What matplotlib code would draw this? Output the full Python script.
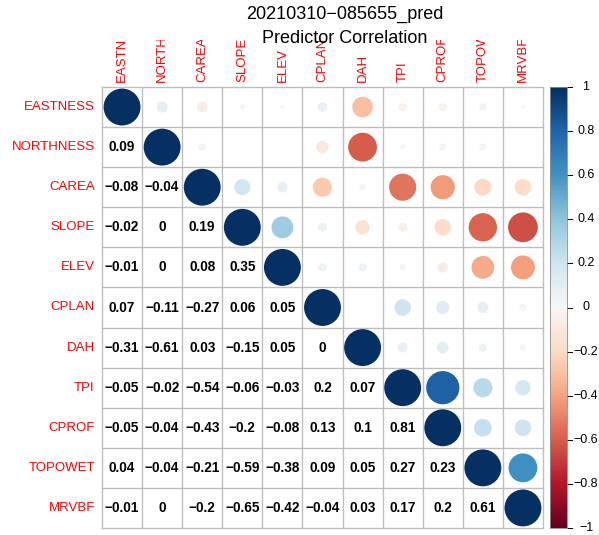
import numpy as np
import matplotlib

matplotlib.use("Agg")
import matplotlib.pyplot as plt  # noqa: E402
from matplotlib.patches import Circle  # noqa: E402
from matplotlib import transforms  # noqa: E402

plt.rcParams["font.family"] = ["Liberation Sans", "DejaVu Sans"]

variables = ["EASTNESS", "NORTHNESS", "CAREA", "SLOPE", "ELEV", "CPLAN",
             "DAH", "TPI", "CPROF", "TOPOWET", "MRVBF"]

# lower triangle of the correlation matrix, row by row
lower_rows = [
    [],
    [0.09],
    [-0.08, -0.04],
    [-0.02, 0, 0.19],
    [-0.01, 0, 0.08, 0.35],
    [0.07, -0.11, -0.27, 0.06, 0.05],
    [-0.31, -0.61, 0.03, -0.15, 0.05, 0],
    [-0.05, -0.02, -0.54, -0.06, -0.03, 0.2, 0.07],
    [-0.05, -0.04, -0.43, -0.2, -0.08, 0.13, 0.1, 0.81],
    [0.04, -0.04, -0.21, -0.59, -0.38, 0.09, 0.05, 0.27, 0.23],
    [-0.01, 0, -0.2, -0.65, -0.42, -0.04, 0.03, 0.17, 0.2, 0.61],
]

title_lines = ["20210310\u2212085655_pred", "Predictor Correlation"]
cbar_ticks = [1, 0.8, 0.6, 0.4, 0.2, 0, -0.2, -0.4, -0.6, -0.8, -1]

n = len(variables)
corr = np.eye(n)
for i, row in enumerate(lower_rows):
    for j, v in enumerate(row):
        corr[i, j] = v
        corr[j, i] = v


def fmt(v):
    s = f"{abs(v):g}"
    return ("\u2212" + s) if v < 0 else s


W, H = 599, 535
fig = plt.figure(figsize=(W / 100, H / 100), dpi=100)
cmap = plt.get_cmap("RdBu", 200)
norm = matplotlib.colors.Normalize(-1, 1)

gx0, gy0, gsize = 102, 87, 441
ax = fig.add_axes([gx0 / W, (H - gy0 - gsize) / H, gsize / W, gsize / H])
ax.set_xlim(0, n)
ax.set_ylim(n, 0)
ax.axis("off")

for i in range(n):
    for j in range(n):
        v = corr[i, j]
        if j >= i:
            r = 0.46 * np.sqrt(abs(v))
            if r > 0:
                ax.add_patch(Circle((j + 0.5, i + 0.5), r, facecolor=cmap(norm(v)),
                                    edgecolor="none"))
        else:
            ax.text(j + 0.5, i + 0.5, fmt(v), ha="center", va="center",
                    fontsize=9.8, fontweight="bold", color="black")

for k in range(n + 1):
    ax.plot([0, n], [k, k], color="#BEBEBE", lw=1, clip_on=False, zorder=0)
    ax.plot([k, k], [0, n], color="#BEBEBE", lw=1, clip_on=False, zorder=0)

# row labels
for i, name in enumerate(variables):
    ax.text(-0.18, i + 0.5, name, ha="right", va="center", fontsize=9.5, color="#FF0000")

# column labels, cut off where they run into the title area
clip = transforms.TransformedBbox(
    transforms.Bbox.from_extents(0, 0, 1, (H - 39.5) / H), fig.transFigure)
for j, name in enumerate(variables):
    t = ax.text(j + 0.5, -0.12, name, ha="center", va="bottom", rotation=90,
                fontsize=9.5, color="#FF0000", clip_on=True)
    t.set_clip_box(clip)

fig.text(345 / W, 1 - 19 / H, title_lines[0], ha="center", va="baseline", fontsize=13)
fig.text(345 / W, 1 - 43 / H, title_lines[1], ha="center", va="baseline", fontsize=13)

# colour legend
cx0, cw = 550, 17
cax = fig.add_axes([cx0 / W, (H - gy0 - gsize) / H, cw / W, gsize / H])
grad = np.linspace(-1, 1, 200).reshape(-1, 1)
cax.imshow(grad, cmap=cmap, norm=norm, origin="lower", aspect="auto",
           extent=[0, 1, -1, 1])
cax.set_xlim(0, 1)
cax.set_ylim(-1, 1)
cax.set_xticks([])
cax.set_yticks([])
for sp in cax.spines.values():
    sp.set_color("#8C8C8C")
    sp.set_linewidth(0.6)
lbl_tr = transforms.blended_transform_factory(fig.transFigure, cax.transData)
for tv in cbar_ticks:
    cax.plot([1, 1.3], [tv, tv], color="black", lw=0.7, clip_on=False)
    fig.text(586 / W, tv, fmt(tv), transform=lbl_tr, ha="center", va="center", fontsize=9)

fig.savefig("out.png", dpi=100)
